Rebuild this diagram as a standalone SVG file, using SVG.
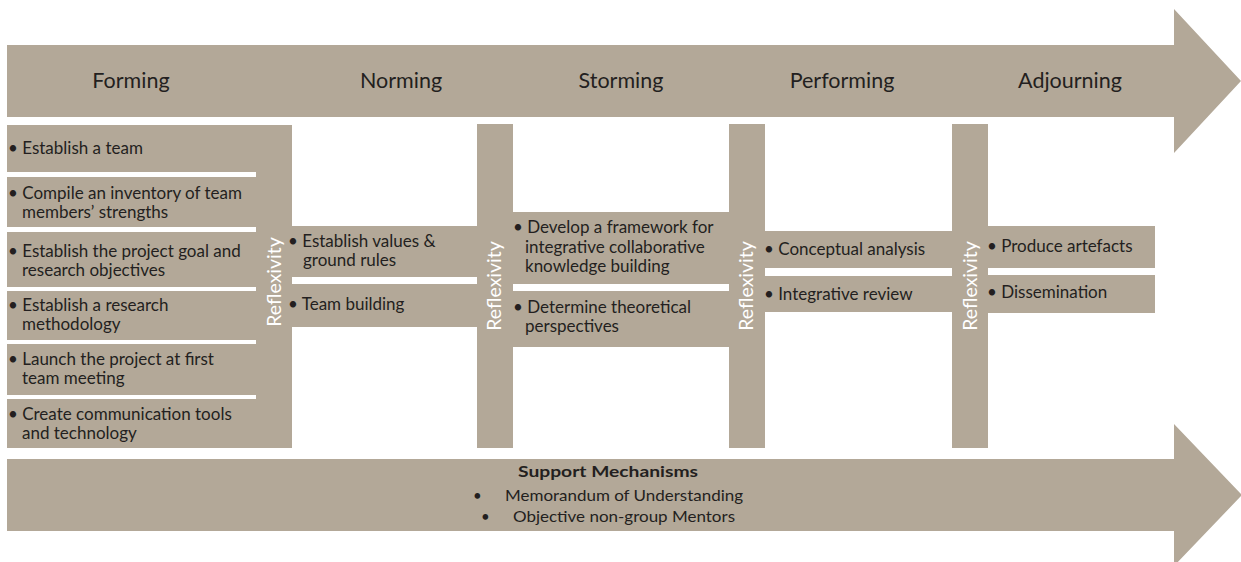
<svg xmlns="http://www.w3.org/2000/svg" width="1241" height="562" viewBox="0 0 1241 562">
<style>
.b{fill:#b3a898}
.h{font-family:Lato,"Open Sans","Liberation Sans",sans-serif;font-size:21.5px;fill:#231f20;text-anchor:middle}
.t{font-family:Lato,"Open Sans","Liberation Sans",sans-serif;font-size:17px;fill:#231f20}
.r{font-family:Lato,"Open Sans","Liberation Sans",sans-serif;font-size:19.5px;fill:#ffffff;text-anchor:middle}
.s{font-family:Lato,"Open Sans","Liberation Sans",sans-serif;font-size:15px;fill:#231f20}
</style>
<rect width="1241" height="562" fill="#ffffff"/>
<g id="connectors">
<g id="stage-arrow">
<polygon class="b" points="7,45 1174,45 1174,9 1241,81 1174,153 1174,117 7,117"/>
<text class="h" x="131" y="88">Forming</text>
<text class="h" x="401" y="88">Norming</text>
<text class="h" x="621" y="88">Storming</text>
<text class="h" x="842" y="88">Performing</text>
<text class="h" x="1070" y="88">Adjourning</text>
</g>
</g>
<g id="forming">
<rect class="b" x="7" y="125" width="250" height="47"/>
<rect class="b" x="7" y="177" width="250" height="50"/>
<rect class="b" x="7" y="232" width="250" height="55"/>
<rect class="b" x="7" y="291" width="250" height="49"/>
<rect class="b" x="7" y="344" width="250" height="51"/>
<rect class="b" x="7" y="399" width="250" height="49"/>
<text class="t" x="8" y="154">• Establish a team</text>
<text class="t" x="8" y="199">• Compile an inventory of team</text>
<text class="t" x="22" y="218">members’ strengths</text>
<text class="t" x="8" y="257">• Establish the project goal and</text>
<text class="t" x="22" y="276">research objectives</text>
<text class="t" x="8" y="311">• Establish a research</text>
<text class="t" x="22" y="330">methodology</text>
<text class="t" x="8" y="365">• Launch the project at first</text>
<text class="t" x="22" y="384">team meeting</text>
<text class="t" x="8" y="420">• Create communication tools</text>
<text class="t" x="22" y="439">and technology</text>
</g>
<g id="reflexivity-1">
<rect class="b" x="256" y="125" width="36" height="323"/>
<text class="r" x="281" y="282" transform="rotate(-90 281 282)">Reflexivity</text>
</g>
<g id="norming">
<rect class="b" x="292" y="226" width="185" height="51"/>
<rect class="b" x="292" y="284" width="185" height="43"/>
<text class="t" x="288" y="247">• Establish values &amp;</text>
<text class="t" x="303" y="266">ground rules</text>
<text class="t" x="288" y="310">• Team building</text>
</g>
<g id="reflexivity-2">
<rect class="b" x="477" y="124" width="36" height="324"/>
<text class="r" x="501" y="286" transform="rotate(-90 501 286)">Reflexivity</text>
</g>
<g id="storming">
<rect class="b" x="513" y="212" width="216" height="72"/>
<rect class="b" x="513" y="291" width="216" height="56"/>
<text class="t" x="513" y="233">• Develop a framework for</text>
<text class="t" x="525" y="253">integrative collaborative</text>
<text class="t" x="525" y="272">knowledge building</text>
<text class="t" x="513" y="313">• Determine theoretical</text>
<text class="t" x="525" y="332">perspectives</text>
</g>
<g id="reflexivity-3">
<rect class="b" x="729" y="124" width="36" height="324"/>
<text class="r" x="753" y="286" transform="rotate(-90 753 286)">Reflexivity</text>
</g>
<g id="performing">
<rect class="b" x="765" y="231" width="187" height="37"/>
<rect class="b" x="765" y="276" width="187" height="36"/>
<text class="t" x="764" y="255">• Conceptual analysis</text>
<text class="t" x="764" y="300">• Integrative review</text>
</g>
<g id="reflexivity-4">
<rect class="b" x="952" y="124" width="36" height="324"/>
<text class="r" x="977" y="286" transform="rotate(-90 977 286)">Reflexivity</text>
</g>
<g id="adjourning">
<rect class="b" x="988" y="226" width="167" height="42"/>
<rect class="b" x="988" y="275" width="167" height="38"/>
<text class="t" x="987" y="252">• Produce artefacts</text>
<text class="t" x="987" y="298">• Dissemination</text>
</g>
<g id="support">
<polygon class="b" points="7,459 1174,459 1174,424 1242,495 1174,566 1174,531 7,531"/>
<text class="s" x="518" y="477" font-weight="bold" textLength="180" lengthAdjust="spacingAndGlyphs">Support Mechanisms</text>
<text class="s" x="473" y="501">•</text>
<text class="s" x="505" y="501" textLength="238" lengthAdjust="spacingAndGlyphs">Memorandum of Understanding</text>
<text class="s" x="481" y="522">•</text>
<text class="s" x="513" y="522" textLength="222" lengthAdjust="spacingAndGlyphs">Objective non-group Mentors</text>
</g>
</svg>
